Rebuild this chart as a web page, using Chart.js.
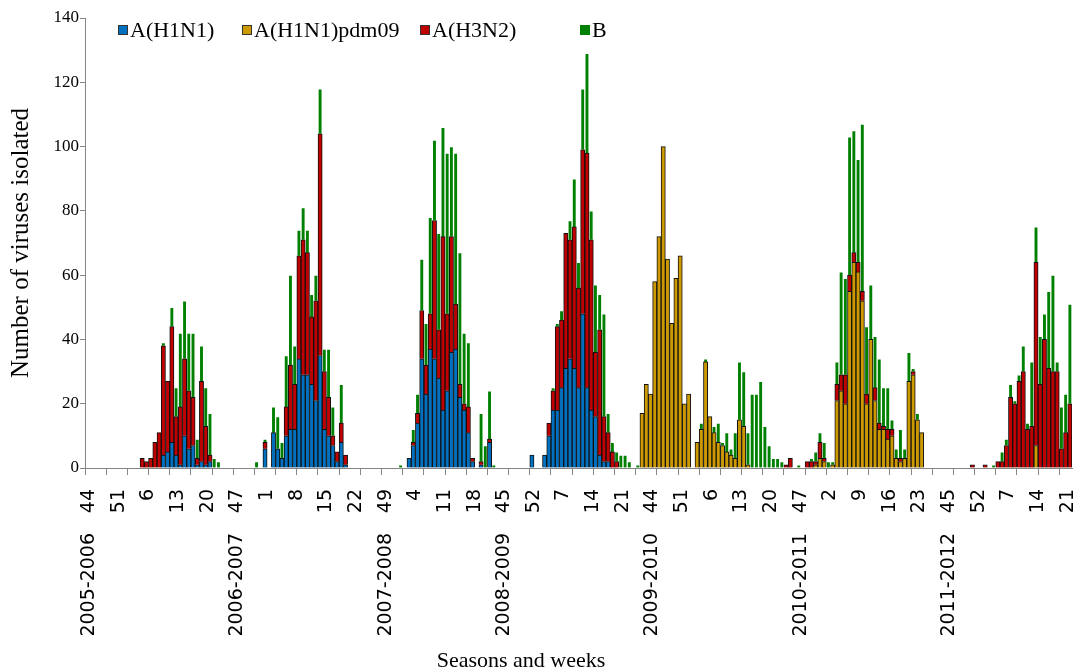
<!DOCTYPE html>
<html>
<head>
<meta charset="utf-8">
<script src="https://cdn.jsdelivr.net/npm/chart.js@4.4.1/dist/chart.umd.min.js"></script>
<style>
  html, body { margin: 0; padding: 0; background: #fff; }
  #wrap { width: 1077px; height: 672px; position: relative; }
</style>
</head>
<body>
<div id="wrap"><canvas id="chart"></canvas></div>
<script>
const seasonNames = ["2005-2006", "2006-2007", "2007-2008", "2008-2009", "2009-2010", "2010-2011", "2011-2012"];
// index of the first labelled week in each season (where the season name sits)
const seasonLabelAt = [0, 35, 70, 98, 133, 168, 203];

const weeks = [
  44,45,46,47,48,49,50,51,52,1,2,3,4,5,6,7,8,9,10,11,12,13,14,15,16,17,18,19,20,21,22,23,
  44,45,46,47,48,49,50,51,52,53,1,2,3,4,5,6,7,8,9,10,11,12,13,14,15,16,17,18,19,20,21,22,23,
  44,45,46,47,48,49,50,51,52,1,2,3,4,5,6,7,8,9,10,11,12,13,14,15,16,17,18,19,20,21,22,23,
  44,45,46,47,48,49,50,51,52,1,2,3,4,5,6,7,8,9,10,11,12,13,14,15,16,17,18,19,20,21,22,23,
  40,41,42,43,44,45,46,47,48,49,50,51,52,1,2,3,4,5,6,7,8,9,10,11,12,13,14,15,16,17,18,19,20,21,22,23,
  44,45,46,47,48,49,50,51,52,1,2,3,4,5,6,7,8,9,10,11,12,13,14,15,16,17,18,19,20,21,22,23,24,
  40,41,42,43,44,45,46,47,48,49,50,51,52,1,2,3,4,5,6,7,8,9,10,11,12,13,14,15,16,17,18,19,20,21,22,
];

const h1n1 = [
  0,0,0,0,0,0,0,0,0,0,0,0,0,0,0,0,0,0,4,5,8,4,1,10,6,7,1,2,1,2,0,0,
  0,0,0,0,0,0,0,0,0,0,6,0,11,6,3,10,12,12,34,29,29,26,21,35,12,10,7,2,8,1,0,0,0,
  0,0,0,0,0,0,0,0,0,0,0,3,7,14,34,23,37,34,28,18,24,36,37,22,18,11,2,0,1,0,8,0,
  0,0,0,0,0,0,0,0,4,0,0,4,10,18,18,25,31,34,31,25,48,25,18,16,4,2,2,0,0,0,0,0,
  0,0,0,0,0,0,0,0,0,0,0,0,0,0,0,0,0,0,0,0,0,0,0,0,0,0,0,0,0,0,0,0,0,0,0,0,
  0,0,0,0,0,0,0,0,0,0,0,0,0,0,0,0,0,0,0,0,0,0,0,0,0,0,0,0,0,0,0,0,0,
  0,0,0,0,0,0,0,0,0,0,0,0,0,0,0,0,0,0,0,0,0,0,0,0,0,0,0,0,0,0,0,0,0,0,0,
];

const h1n1pdm = [
  0,0,0,0,0,0,0,0,0,0,0,0,0,0,0,0,0,0,0,0,0,0,0,0,0,0,0,0,0,0,0,0,
  0,0,0,0,0,0,0,0,0,0,0,0,0,0,0,0,0,0,0,0,0,0,0,0,0,0,0,0,0,0,0,0,0,
  0,0,0,0,0,0,0,0,0,0,0,0,0,0,0,0,0,0,0,0,0,0,0,0,0,0,0,0,0,0,0,0,
  0,0,0,0,0,0,0,0,0,0,0,0,0,0,0,0,0,0,0,0,0,0,0,0,0,0,0,0,0,0,0,0,
  0,0,17,26,23,58,72,100,65,45,59,66,20,23,0,8,12,33,16,11,8,7,5,4,3,15,13,1,0,0,0,0,0,0,0,0,
  0,0,0,0,0,0,0,1,3,2,0,1,21,24,20,55,64,61,52,20,40,21,12,12,9,10,3,2,3,27,29,15,11,
  0,0,0,0,0,0,0,0,0,0,0,0,0,0,0,0,0,0,0,0,0,0,0,0,0,0,7,0,0,0,0,0,0,0,0,
];

const h3n2 = [
  0,0,0,0,0,0,0,0,0,0,0,0,0,3,2,3,8,11,34,22,36,12,18,24,18,15,2,25,12,2,0,0,
  0,0,0,0,0,0,0,0,0,0,2,0,0,0,0,9,20,14,32,42,38,21,31,69,18,12,3,3,6,3,0,0,0,
  0,0,0,0,0,0,0,0,0,0,0,0,1,3,15,9,11,43,15,54,24,36,14,4,2,8,1,0,1,0,1,0,
  0,0,0,0,0,0,0,0,0,0,0,0,4,6,26,21,42,37,44,31,51,73,53,20,39,14,9,5,2,0,0,0,
  0,0,0,0,0,0,0,0,0,0,0,0,0,0,0,0,0,0,0,0,0,0,0,0,0,0,0,0,0,0,0,0,0,0,0,0,
  1,3,0,0,0,2,2,1,5,1,0,0,5,5,9,5,3,3,3,3,0,4,2,1,3,2,0,1,0,0,1,0,0,
  0,0,0,0,0,0,0,0,0,0,0,1,0,0,1,0,0,2,2,7,22,20,27,30,12,13,57,26,40,31,30,30,6,11,20,
];

const fluB = [
  0,0,0,0,0,0,0,0,0,0,0,0,0,0,0,0,0,0,1,0,6,9,23,18,18,20,6,11,12,13,3,2,
  0,0,0,0,0,0,0,0,2,0,1,0,8,10,5,16,28,12,8,10,7,7,8,14,7,15,9,0,12,0,0,0,0,
  0,0,0,0,0,0,0,0,0,1,0,0,4,6,16,13,30,25,30,34,50,28,47,41,22,20,0,0,15,7,15,1,
  0,0,0,0,0,0,0,0,0,0,0,0,0,1,1,3,0,6,15,8,19,31,9,21,11,32,6,3,3,4,4,2,
  0,1,0,0,0,0,0,0,0,0,0,0,0,0,0,0,2,1,0,2,6,1,6,2,8,18,17,10,23,23,27,13,7,3,3,2,
  0,0,0,1,0,0,1,3,3,5,2,1,7,32,30,43,38,32,52,21,17,16,20,12,13,3,3,9,3,9,1,2,0,
  0,0,0,0,0,0,0,0,0,0,0,0,0,0,0,0,1,0,3,2,4,1,2,8,2,20,11,15,8,24,30,3,13,12,31,
];

const serif = "'Liberation Serif', 'Times New Roman', serif";
const sans = "'DejaVu Sans', Verdana, sans-serif";
const axisGrey = "#868686";

const weekLabels = weeks.map(String);
const seasonTicks = weeks.map((w, i) => {
  const k = seasonLabelAt.indexOf(i);
  return k === -1 ? "" : seasonNames[k];
});

function makeSet(label, data, color, edge) {
  return {
    label,
    data,
    xAxisID: "x",
    backgroundColor: color,
    borderColor: edge,
    borderWidth: 1,
    barPercentage: 1,
    categoryPercentage: 1,
  };
}

// x axes: keep the plot running edge to edge, no label padding
function fixX(height) {
  return (scale) => {
    scale.height = height;
    scale.paddingLeft = 0;
    scale.paddingRight = 0;
  };
}

// legend sits inside the plot like the original, drawn by hand
const LEGEND_X = [118, 242, 420, 580];

const overlay = {
  id: "overlay",
  afterDraw(chart) {
    const ctx = chart.ctx;
    ctx.save();
    ctx.font = `22px ${serif}`;
    ctx.textBaseline = "middle";
    chart.data.datasets.forEach((ds, i) => {
      const x = LEGEND_X[i];
      ctx.fillStyle = ds.backgroundColor;
      ctx.fillRect(x, 25, 10, 10);
      if (i < 3) {
        ctx.strokeStyle = "#333";
        ctx.lineWidth = 1;
        ctx.strokeRect(x + 0.5, 25.5, 9, 9);
      }
      ctx.fillStyle = "#000";
      ctx.fillText(ds.label, x + 12, 31);
    });
    ctx.textAlign = "center";
    ctx.fillText("Seasons and weeks", 521, 661);
    ctx.restore();
  },
};

new Chart(document.getElementById("chart"), {
  type: "bar",
  data: {
    labels: weekLabels,
    datasets: [
      makeSet("A(H1N1)", h1n1, "#0070C0", "#111"),
      makeSet("A(H1N1)pdm09", h1n1pdm, "#CC9900", "#111"),
      makeSet("A(H3N2)", h3n2, "#C00000", "#111"),
      makeSet("B", fluB, "#008000", "rgba(255,255,255,0.7)"),
    ],
  },
  options: {
    responsive: true,
    maintainAspectRatio: false,
    animation: false,
    layout: { padding: { top: 18, right: 5, left: 0, bottom: 0 } },
    plugins: {
      legend: { display: false },
      tooltip: { enabled: false },
    },
    scales: {
      x: {
        stacked: true,
        offset: true,
        weight: 0,
        ticks: {
          autoSkip: false,
          maxRotation: 90,
          minRotation: 90,
          padding: 14,
          labelOffset: 2,
          color: "#000",
          font: { family: sans, size: 19 },
          callback: (v, i) => (i % 7 === 0 ? weekLabels[i] : ""),
        },
        grid: {
          offset: true,
          drawOnChartArea: false,
          tickLength: 7,
          tickColor: (c) => (c.index % 5 === 0 ? axisGrey : "rgba(0,0,0,0)"),
        },
        border: { color: axisGrey },
        afterFit: fixX(45),
      },
      x2: {
        type: "category",
        labels: seasonTicks,
        position: "bottom",
        offset: true,
        weight: 1,
        grid: { display: false },
        border: { display: false },
        ticks: {
          autoSkip: false,
          maxRotation: 90,
          minRotation: 90,
          padding: 12,
          labelOffset: 2,
          color: "#000",
          font: { family: sans, size: 19 },
        },
        afterFit: fixX(159),
      },
      y: {
        stacked: true,
        min: 0,
        max: 140,
        ticks: {
          stepSize: 20,
          padding: 1,
          color: "#000",
          font: { family: serif, size: 17 },
        },
        grid: { drawOnChartArea: false, tickLength: 5, color: axisGrey },
        border: { color: axisGrey },
        title: {
          display: true,
          text: "Number of viruses isolated",
          color: "#000",
          font: { family: serif, size: 25 },
          padding: { top: 6, bottom: 0 },
        },
        afterFit(scale) { scale.width = 85; },
      },
    },
  },
  plugins: [overlay],
});
</script>
</body>
</html>
